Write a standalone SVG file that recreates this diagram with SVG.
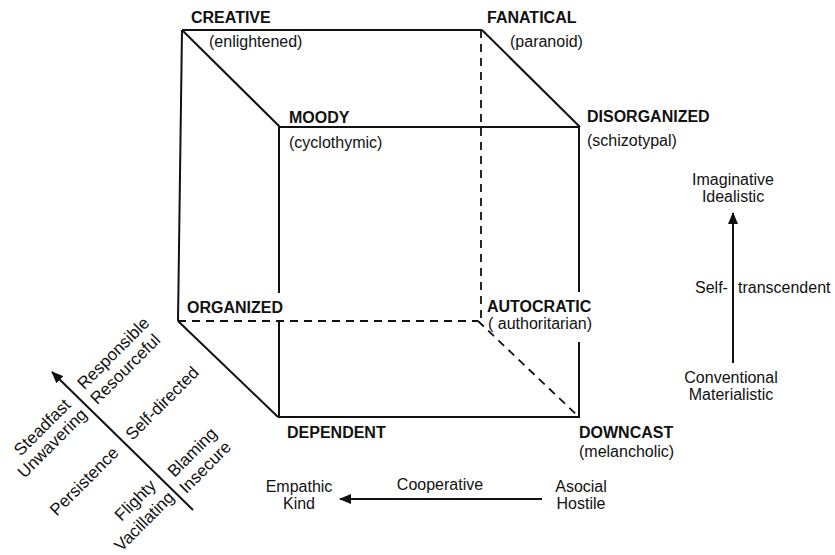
<svg xmlns="http://www.w3.org/2000/svg" width="835" height="555" viewBox="0 0 835 555">
<defs>
<style>
.e{stroke:#111;stroke-width:2;fill:none}
.d{stroke:#111;stroke-width:1.8;fill:none;stroke-dasharray:8 6}
.a{stroke:#111;stroke-width:2;fill:none}
.b{font-family:"Liberation Sans",Arial,sans-serif;font-size:16px;font-weight:bold;fill:#111}
.t{font-family:"Liberation Sans",Arial,sans-serif;font-size:16px;fill:#111}
.r{font-family:"Liberation Sans",Arial,sans-serif;font-size:17px;fill:#111;text-anchor:middle}
.m{text-anchor:middle}
</style>
<marker id="ah" viewBox="0 0 12 10" refX="11" refY="5" markerWidth="12" markerHeight="10" markerUnits="userSpaceOnUse" orient="auto">
<path d="M0,0 L12,5 L0,10 Z" fill="#111"/>
</marker>
</defs>
<rect width="835" height="555" fill="#fff"/>
<g id="connectors">
<path class="e" d="M182,30 L482,30"/>
<path class="e" d="M182,30 L178,321"/>
<path class="e" d="M182,30 L280,127"/>
<path class="e" d="M482,30 L580,127"/>
<path class="e" d="M280,127 L580,127"/>
<path class="e" d="M279,127 L279,293"/>
<path class="e" d="M279,322 L279,417"/>
<path class="e" d="M579,127 L579,292"/>
<path class="e" d="M579,342 L579,417"/>
<path class="e" d="M178,321 L278,417"/>
<path class="e" d="M278,417 L580,417"/>
<path class="d" d="M481,30 L481,321"/>
<path class="d" d="M178,321 L478,321"/>
<path class="d" d="M478,321 L579,417"/>
<path class="a" d="M193,510 L52,372" marker-end="url(#ah)"/>
<path class="a" d="M733,363 L733,213" marker-end="url(#ah)"/>
<path class="a" d="M542,499 L340,499" marker-end="url(#ah)"/>
</g>
<g id="creative"><text class="b" x="191" y="23">CREATIVE</text><text class="t" x="209" y="47">(enlightened)</text></g>
<g id="fanatical"><text class="b" x="487" y="23">FANATICAL</text><text class="t" x="510" y="47">(paranoid)</text></g>
<g id="moody"><text class="b" x="289" y="123">MOODY</text><text class="t" x="289" y="148">(cyclothymic)</text></g>
<g id="disorganized"><text class="b" x="587" y="122">DISORGANIZED</text><text class="t" x="587" y="146">(schizotypal)</text></g>
<g id="organized"><text class="b" x="187" y="313">ORGANIZED</text></g>
<g id="autocratic"><text class="b" x="487" y="312">AUTOCRATIC</text><text class="t" x="488" y="329">( authoritarian)</text></g>
<g id="dependent"><text class="b" x="287" y="438">DEPENDENT</text></g>
<g id="downcast"><text class="b" x="579" y="438">DOWNCAST</text><text class="t" x="579" y="457">(melancholic)</text></g>
<g id="axis-bottom">
<text class="t m" x="299" y="492">Empathic</text><text class="t m" x="299" y="509">Kind</text>
<text class="t m" x="440" y="490">Cooperative</text>
<text class="t m" x="581" y="492">Asocial</text><text class="t m" x="581" y="509">Hostile</text>
</g>
<g id="axis-right">
<text class="t m" x="733" y="185">Imaginative</text><text class="t m" x="733" y="202">Idealistic</text>
<text class="t" x="695" y="293">Self-</text><text class="t" x="738" y="293">transcendent</text>
<text class="t m" x="731" y="383">Conventional</text><text class="t m" x="731" y="400">Materialistic</text>
</g>
<g id="axis-left">
<g transform="translate(113,353) rotate(-45)"><text class="r" x="0" y="6">Responsible</text></g>
<g transform="translate(125,369) rotate(-45)"><text class="r" x="0" y="6">Resourceful</text></g>
<g transform="translate(42,427) rotate(-45)"><text class="r" x="0" y="6">Steadfast</text></g>
<g transform="translate(52,443) rotate(-45)"><text class="r" x="0" y="6">Unwavering</text></g>
<g transform="translate(162,403) rotate(-45)"><text class="r" x="0" y="6">Self-directed</text></g>
<g transform="translate(84,481) rotate(-45)"><text class="r" x="0" y="6">Persistence</text></g>
<g transform="translate(192,452) rotate(-45)"><text class="r" x="0" y="6">Blaming</text></g>
<g transform="translate(205,467) rotate(-45)"><text class="r" x="0" y="6">Insecure</text></g>
<g transform="translate(135,500) rotate(-45)"><text class="r" x="0" y="6">Flighty</text></g>
<g transform="translate(144,521) rotate(-45)"><text class="r" x="0" y="6">Vacillating</text></g>
</g>
</svg>
